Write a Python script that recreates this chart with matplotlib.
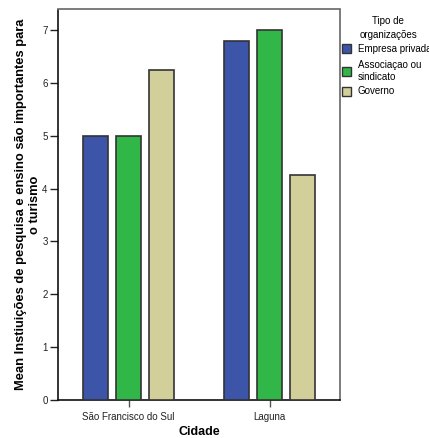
import matplotlib
matplotlib.use("Agg")
import matplotlib.pyplot as plt
import numpy as np
from matplotlib.patches import Rectangle

plt.rcParams['font.family'] = ['Liberation Sans', 'DejaVu Sans']

cities = ["São Francisco do Sul", "Laguna"]
series_names = ["Empresa privada", "Associaçao ou\nsindicato", "Governo"]
empresa = [5.0, 6.8]
associacao = [5.0, 7.0]
governo = [6.25, 4.25]
colors = ["#3D55A8", "#30B747", "#D3CF9A"]
edge = "#333333"

W, H = 429, 438
fig = plt.figure(figsize=(W / 100, H / 100), dpi=100)
ax = fig.add_axes([58 / W, 1 - 400 / H, 282 / W, 390.5 / H])

x = np.arange(len(cities))
width = 0.178
offsets = [-0.235, 0.0, 0.235]
for vals, off, c in zip([empresa, associacao, governo], offsets, colors):
    ax.bar(x + off, vals, width, color=c, edgecolor=edge, linewidth=1.2, zorder=3)

ax.set_xlim(-0.5, 1.5)
ax.set_ylim(0, 7.39)
ax.set_yticks(range(0, 8))
ax.set_xticks(x)
ax.set_xticklabels(cities)
ax.tick_params(axis='both', labelsize=7, width=1, colors='#222222', direction='out')
ax.tick_params(axis='y', length=6, pad=1.5)
ax.tick_params(axis='x', length=5, color='#555555')
for s in ['left', 'bottom']:
    ax.spines[s].set_linewidth(1.2)
    ax.spines[s].set_color('#111111')
for s in ['top', 'right']:
    ax.spines[s].set_linewidth(1.2)
    ax.spines[s].set_color('#666666')

ax.set_xlabel("Cidade", fontsize=9, fontweight='bold', labelpad=3)
ax.set_ylabel("Mean Instiuições de pesquisa e ensino são importantes para\no turismo",
              fontsize=9.3, fontweight='bold', linespacing=1.3)
ax.yaxis.set_label_coords(-0.059, 0.5)

# legend drawn manually for exact layout
fig.text(388 / W, 1 - 21 / H, "Tipo de", fontsize=7, ha='center', va='center')
fig.text(388 / W, 1 - 35.5 / H, "organizações", fontsize=7, ha='center', va='center')
entry_y = [48.7, 71.0, 91.0]
for c, name, yc in zip(colors, series_names, entry_y):
    fig.patches.append(Rectangle((342 / W, 1 - (yc + 4.5) / H), 9 / W, 9 / H,
                                 transform=fig.transFigure, facecolor=c,
                                 edgecolor=edge, linewidth=1.0))
    fig.text(357.5 / W, 1 - yc / H, name, fontsize=7, ha='left', va='center',
             linespacing=1.2)

fig.savefig("out.png", dpi=100)
